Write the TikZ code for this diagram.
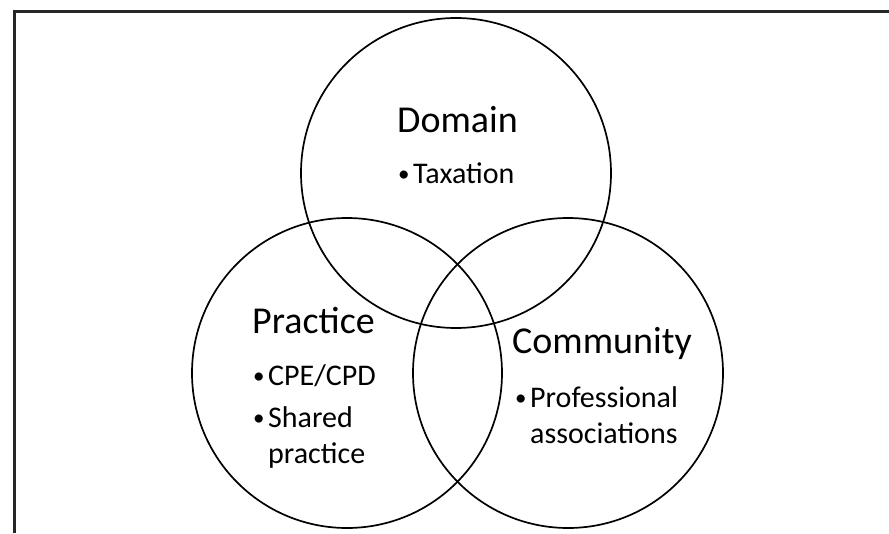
\documentclass[tikz,border=0pt]{standalone}
\usepackage{fontspec}
\setmainfont{Carlito}
\usetikzlibrary{positioning}
\newcommand{\bul}{\makebox[15pt][l]{\raisebox{2pt}{\fontsize{23}{23}\selectfont •}}}
\tikzset{set/.style={draw, circle, line width=1.7pt, minimum size=310pt, inner sep=0pt},
  head/.style={anchor=base west, inner sep=0pt, font=\fontsize{38}{46}\selectfont},
  item/.style={anchor=base west, inner sep=0pt, font=\fontsize{30}{36}\selectfont},
  frame/.style={line width=3pt, draw=black!85}}

\begin{document}
\begin{tikzpicture}[x=1pt, y=-1pt]
    \useasboundingbox (0,0) rectangle (889,533);
    \draw[frame] (14.5,533) -- (14.5,11) -- (889,11);
    % the three sets
    \node[set] (D) at (456,173) {};
    \node[set] (P) at (347,373) {};
    \node[set] (C) at (568,373) {};
    % domain
    \node[head] (Dh) at (397,132) {Domain};
    \node[item] (D1) at (398,183) {\bul Taxation};
    % practice
    \node[head] (Ph) at (252,333) {Practice};
    \node[item] (P1) at (253,385) {\bul CPE/CPD};
    \node[item] (P2) at (253,427) {\bul Shared};
    \node[item] (P2b) at (268,463) {practice};
    % community
    \node[head] (Ch) at (512,353) {Community};
    \node[item] (C1) at (515,407) {\bul Professional};
    \node[item] (C1b) at (530,443) {associations};
\end{tikzpicture}
\end{document}
